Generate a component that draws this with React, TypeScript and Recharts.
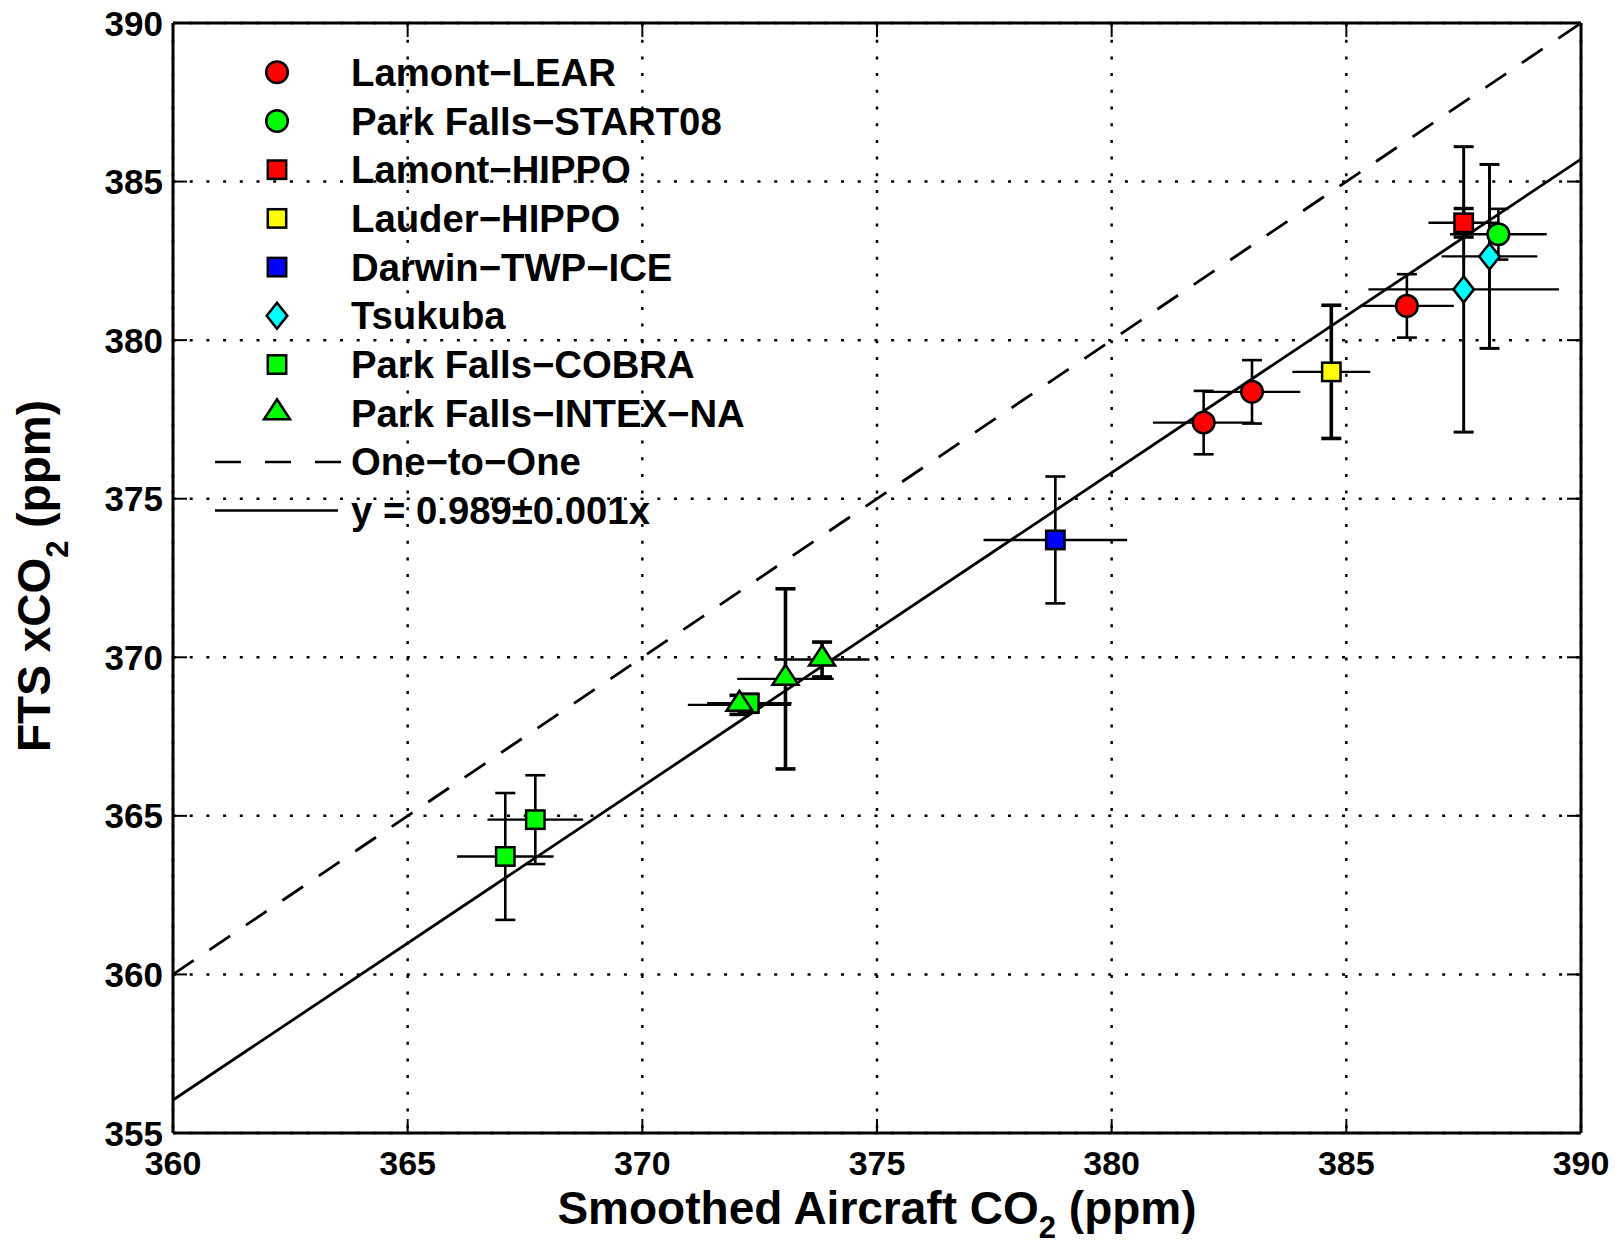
import React from 'react';
import { ScatterChart, Scatter, XAxis, YAxis, CartesianGrid, ErrorBar, Legend } from 'recharts';

const FONT = '"Liberation Sans", Arial, Helvetica, sans-serif';

// ---- axis ticks ----
const xTicks = [360, 365, 370, 375, 380, 385, 390];
const yTicks = [355, 360, 365, 370, 375, 380, 385, 390];

// ---- data (x = smoothed aircraft CO2, y = FTS xCO2, ex/ey = error half-widths) ----
const lamontLear = [
  { x: 381.96, y: 377.40, ex: 1.08, ey: 1.0 },
  { x: 382.99, y: 378.37, ex: 1.03, ey: 1.0 },
  { x: 386.29, y: 381.08, ex: 1.0, ey: 1.0 },
];
const parkFallsStart08 = [{ x: 388.24, y: 383.34, ex: 1.03, ey: 0.8 }];
const lamontHippo = [{ x: 387.5, y: 383.7, ex: 0.75, ey: 0.45 }];
const lauderHippo = [{ x: 384.68, y: 379.0, ex: 0.83, ey: 2.1 }];
const darwinTwpIce = [{ x: 378.8, y: 373.7, ex: 1.53, ey: 2.0 }];
const tsukuba = [
  { x: 387.5, y: 381.6, ex: 2.03, ey: 4.5 },
  { x: 388.05, y: 382.64, ex: 1.02, ey: 2.9 },
];
const parkFallsCobra = [
  { x: 367.08, y: 363.72, ex: 1.03, ey: 2.0 },
  { x: 367.72, y: 364.88, ex: 1.02, ey: 1.4 },
  { x: 372.28, y: 368.55, ex: 0.9, ey: 0.3 },
];
const parkFallsIntexNa = [
  { x: 372.07, y: 368.5, ex: 1.1, ey: 0.3 },
  { x: 373.05, y: 369.32, ex: 1.03, ey: 2.84 },
  { x: 373.83, y: 369.93, ex: 1.01, ey: 0.55 },
];

// reference lines
const oneToOne = [
  { x: 360, y: 360 },
  { x: 390, y: 390 },
];
const fitLine = [
  { x: 360, y: 356.04 },
  { x: 390, y: 385.71 },
];

const RED = '#ff0000';
const GREEN = '#00ff00';
const YELLOW = '#ffff00';
const BLUE = '#0000ff';
const CYAN = '#00ffff';

const seriesList = [
  { name: 'Lamont−LEAR', data: lamontLear, kind: 'circle', fill: RED, vw: 2.6 },
  { name: 'Park Falls−START08', data: parkFallsStart08, kind: 'circle', fill: GREEN, vw: 2.6 },
  { name: 'Lamont−HIPPO', data: lamontHippo, kind: 'square', fill: RED, vw: 3.4 },
  { name: 'Lauder−HIPPO', data: lauderHippo, kind: 'square', fill: YELLOW, vw: 3.6 },
  { name: 'Darwin−TWP−ICE', data: darwinTwpIce, kind: 'square', fill: BLUE, vw: 2.6 },
  { name: 'Tsukuba', data: tsukuba, kind: 'diamond', fill: CYAN, vw: 3.0 },
  { name: 'Park Falls−COBRA', data: parkFallsCobra, kind: 'square', fill: GREEN, vw: 2.6 },
  { name: 'Park Falls−INTEX−NA', data: parkFallsIntexNa, kind: 'triangle', fill: GREEN, vw: 3.6 },
];

const legendLines = [
  { name: 'One−to−One', dash: '26 24' },
  { name: 'y = 0.989±0.001x', dash: undefined },
];

const SW = 2.5;
const TICK = 14;

function drawMarker(kind: string, fill: string, cx: number, cy: number) {
  const common = { fill, stroke: '#000', strokeWidth: SW, strokeLinejoin: 'miter' as const };
  if (kind === 'circle') return <circle cx={cx} cy={cy} r={10.8} {...common} />;
  if (kind === 'square') return <rect x={cx - 9.2} y={cy - 9.2} width={18.4} height={18.4} {...common} />;
  if (kind === 'diamond')
    return <path d={`M${cx},${cy - 13} L${cx + 10.3},${cy} L${cx},${cy + 13} L${cx - 10.3},${cy} Z`} {...common} />;
  return <path d={`M${cx},${cy - 14} L${cx + 13},${cy + 6} L${cx - 13},${cy + 6} Z`} {...common} />;
}

const NoShape = () => <g />;

function BottomTick(props: any) {
  const { x, y, payload } = props;
  return (
    <g>
      <line x1={x} y1={y} x2={x} y2={y - TICK} stroke="#000" strokeWidth={2} />
      <text x={x} y={y + 41.5} textAnchor="middle" fontFamily={FONT} fontWeight="bold" fontSize={34} fill="#000">
        {payload.value}
      </text>
    </g>
  );
}
function TopTick(props: any) {
  const { x, y } = props;
  return <line x1={x} y1={y} x2={x} y2={y + TICK} stroke="#000" strokeWidth={2} />;
}
function LeftTick(props: any) {
  const { x, y, payload } = props;
  return (
    <g>
      <line x1={x} y1={y} x2={x + TICK} y2={y} stroke="#000" strokeWidth={2} />
      <text x={x - 10} y={y + 12.5} textAnchor="end" fontFamily={FONT} fontWeight="bold" fontSize={35} fill="#000">
        {payload.value}
      </text>
    </g>
  );
}
function RightTick(props: any) {
  const { x, y } = props;
  return <line x1={x} y1={y} x2={x - TICK} y2={y} stroke="#000" strokeWidth={2} />;
}

function XTitle(props: any) {
  const vb = props.viewBox || { x: 173, y: 1133, width: 1408, height: 113 };
  const cx = vb.x + vb.width / 2;
  const by = vb.y + 91;
  return (
    <text x={cx} y={by} textAnchor="middle" fontFamily={FONT} fontWeight="bold" fontSize={46} fill="#000" style={{ whiteSpace: 'pre' }}>
      <tspan>Smoothed Aircraft CO</tspan>
      <tspan fontSize={31} dy={14}>2</tspan>
      <tspan dy={-14}> (ppm)</tspan>
    </text>
  );
}

function YTitle(props: any) {
  const vb = props.viewBox || { x: 0, y: 23, width: 173, height: 1110 };
  const cy = vb.y + vb.height / 2 - 2;
  const bx = 50;
  return (
    <text
      x={bx}
      y={cy}
      transform={`rotate(-90, ${bx}, ${cy})`}
      textAnchor="middle"
      fontFamily={FONT}
      fontWeight="bold"
      fontSize={46}
      fill="#000"
      style={{ whiteSpace: 'pre' }}
    >
      <tspan>FTS xCO</tspan>
      <tspan fontSize={31} dy={18}>2</tspan>
      <tspan dy={-18}> (ppm)</tspan>
    </text>
  );
}

const LEG_LEFT = 158;
const LEG_TOP = 38;
const LEG_MX = 119;
const LEG_TX = 193;
const LEG_Y0 = 34.3;
const LEG_DY = 48.7;

function LegendContent() {
  const rows = seriesList.length + legendLines.length;
  return (
    <svg width={640} height={LEG_Y0 + rows * LEG_DY + 20} style={{ display: 'block', overflow: 'visible' }}>
      {seriesList.map((s, i) => {
        const cy = LEG_Y0 + i * LEG_DY;
        return (
          <g key={s.name}>
            {drawMarker(s.kind, s.fill, LEG_MX, cy)}
            <text x={LEG_TX} y={cy + 13.5} fontFamily={FONT} fontWeight="bold" fontSize={38.3} fill="#000">
              {s.name}
            </text>
          </g>
        );
      })}
      {legendLines.map((l, j) => {
        const cy = LEG_Y0 + (seriesList.length + j) * LEG_DY;
        return (
          <g key={l.name}>
            <line x1={57} y1={cy} x2={l.dash ? 183 : 180} y2={cy} stroke="#000" strokeWidth={SW} strokeDasharray={l.dash} />
            <text x={LEG_TX} y={cy + 13.5} fontFamily={FONT} fontWeight="bold" fontSize={38.3} fill="#000">
              {l.name}
            </text>
          </g>
        );
      })}
    </svg>
  );
}

export default function App() {
  const axisLine = { stroke: '#000', strokeWidth: 3 };
  return (
    <div style={{ width: 1620, height: 1246, marginTop: -8, marginLeft: -8 }}>
      <ScatterChart width={1620} height={1246} margin={{ top: 0, right: 0, bottom: 0, left: 0 }}>
        <CartesianGrid stroke="#000" strokeWidth={2.5} strokeDasharray="3 13.7" />
        <XAxis
          xAxisId={0}
          type="number"
          dataKey="x"
          domain={[360, 390]}
          ticks={xTicks}
          interval={0}
          allowDataOverflow
          height={113}
          tickSize={0}
          tickMargin={0}
          tickLine={false}
          axisLine={axisLine}
          tick={BottomTick}
          label={{ content: XTitle }}
        />
        <XAxis
          xAxisId="top"
          orientation="top"
          type="number"
          dataKey="x"
          domain={[360, 390]}
          ticks={xTicks}
          interval={0}
          allowDataOverflow
          height={23}
          tickSize={0}
          tickMargin={0}
          tickLine={false}
          axisLine={axisLine}
          tick={TopTick}
        />
        <YAxis
          yAxisId={0}
          type="number"
          dataKey="y"
          domain={[355, 390]}
          ticks={yTicks}
          interval={0}
          allowDataOverflow
          width={173}
          tickSize={0}
          tickMargin={0}
          tickLine={false}
          axisLine={axisLine}
          tick={LeftTick}
          label={{ content: YTitle }}
        />
        <YAxis
          yAxisId="right"
          orientation="right"
          type="number"
          dataKey="y"
          domain={[355, 390]}
          ticks={yTicks}
          interval={0}
          allowDataOverflow
          width={39}
          tickSize={0}
          tickMargin={0}
          tickLine={false}
          axisLine={axisLine}
          tick={RightTick}
        />

        <Scatter
          name="One-to-One"
          data={oneToOne}
          line={{ stroke: '#000', strokeWidth: 2.8, strokeDasharray: '25 19' }}
          shape={NoShape}
          isAnimationActive={false}
        />
        <Scatter
          name="fit"
          data={fitLine}
          line={{ stroke: '#000', strokeWidth: 2.8 }}
          shape={NoShape}
          isAnimationActive={false}
        />

        {seriesList.map((s) => (
          <Scatter key={'err-' + s.name} name={'err-' + s.name} data={s.data} shape={NoShape} isAnimationActive={false}>
            <ErrorBar dataKey="ex" direction="x" width={0} stroke="#000" strokeWidth={2.4} />
            <ErrorBar dataKey="ey" direction="y" width={10} stroke="#000" strokeWidth={s.vw} />
          </Scatter>
        ))}

        {seriesList.map((s) => (
          <Scatter
            key={s.name}
            name={s.name}
            data={s.data}
            isAnimationActive={false}
            shape={(p: any) => drawMarker(s.kind, s.fill, p.cx, p.cy)}
          />
        ))}

        <Legend
          layout="vertical"
          align="center"
          verticalAlign="middle"
          content={LegendContent}
          wrapperStyle={{ left: LEG_LEFT, top: LEG_TOP, width: 640, height: 520, margin: 0, padding: 0, lineHeight: 0 }}
        />
      </ScatterChart>
    </div>
  );
}
